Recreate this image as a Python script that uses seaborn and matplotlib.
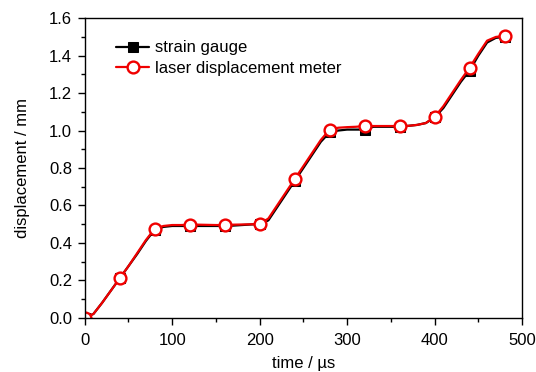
import matplotlib
matplotlib.use("Agg")
import matplotlib.pyplot as plt
import seaborn as sns
import pandas as pd
from matplotlib.ticker import MultipleLocator

# time samples (µs)
time_us = list(range(0, 481, 10))

strain_gauge = [0.00, 0.02, 0.08, 0.145, 0.21, 0.275, 0.34, 0.41, 0.47, 0.485,
                0.49, 0.49, 0.49, 0.49, 0.49, 0.49, 0.49, 0.492, 0.495, 0.498,
                0.50, 0.52, 0.59, 0.66, 0.73, 0.80, 0.87, 0.94, 0.99, 1.00,
                1.005, 1.005, 1.005, 1.02, 1.02, 1.02, 1.02, 1.025, 1.03, 1.04,
                1.07, 1.12, 1.19, 1.26, 1.32, 1.40, 1.47, 1.495, 1.50]

laser_meter = [0.00, 0.02, 0.08, 0.145, 0.21, 0.275, 0.345, 0.415, 0.475, 0.49,
               0.495, 0.495, 0.497, 0.497, 0.496, 0.495, 0.495, 0.497, 0.498, 0.499,
               0.50, 0.53, 0.60, 0.67, 0.74, 0.81, 0.88, 0.95, 1.005, 1.015,
               1.018, 1.02, 1.024, 1.024, 1.024, 1.024, 1.024, 1.025, 1.03, 1.04,
               1.072, 1.13, 1.20, 1.27, 1.336, 1.41, 1.48, 1.50, 1.506]

series_names = ["strain gauge", "laser displacement meter"]
x_ticks = [0, 100, 200, 300, 400, 500]
y_ticks = [0.0, 0.2, 0.4, 0.6, 0.8, 1.0, 1.2, 1.4, 1.6]

sns.set_style("ticks")
plt.rcParams["font.family"] = ["Liberation Sans", "DejaVu Sans"]
plt.rcParams["text.color"] = "black"
plt.rcParams["axes.labelcolor"] = "black"
plt.rcParams["xtick.color"] = "black"
plt.rcParams["ytick.color"] = "black"
fs = 12

fig = plt.figure(figsize=(5.36, 3.72), dpi=100)
ax = fig.add_axes([0.158, 0.146, 0.816, 0.805])

df = pd.DataFrame({"time": time_us, "sg": strain_gauge, "ldm": laser_meter})

sns.lineplot(data=df, x="time", y="sg", ax=ax, color="black", lw=1.6,
             marker="s", markersize=7.5, markerfacecolor="black",
             markeredgecolor="black", markevery=4, label=series_names[0])
sns.lineplot(data=df, x="time", y="ldm", ax=ax, color="#f00000", lw=1.6,
             marker="o", markersize=8.5, markerfacecolor="white",
             markeredgecolor="#f00000", markeredgewidth=1.7, markevery=4,
             label=series_names[1])

ax.set_xlim(0, 500)
ax.set_ylim(0, 1.6)
ax.set_xticks(x_ticks)
ax.set_yticks(y_ticks)
ax.set_yticklabels([f"{v:.1f}" for v in y_ticks])
ax.xaxis.set_minor_locator(MultipleLocator(50))
ax.yaxis.set_minor_locator(MultipleLocator(0.1))
ax.tick_params(which="major", direction="out", length=5, width=1, labelsize=fs,
               colors="black", labelcolor="black")
ax.tick_params(axis="x", which="major", pad=6)
ax.tick_params(axis="y", which="major", pad=4)
ax.tick_params(which="minor", direction="out", length=3, width=1, colors="black")
for s in ax.spines.values():
    s.set_linewidth(1.0)
    s.set_color("black")

ax.set_xlabel("time / µs", fontsize=fs, labelpad=6, color="black")
ax.set_ylabel("displacement / mm", fontsize=fs, labelpad=14, color="black")

leg = ax.legend(loc="upper left", bbox_to_anchor=(0.045, 0.965), frameon=False,
                fontsize=fs, handlelength=2.0, handletextpad=0.35,
                labelspacing=0.35, borderaxespad=0.3, labelcolor="black")

fig.savefig("out.png", dpi=100)
